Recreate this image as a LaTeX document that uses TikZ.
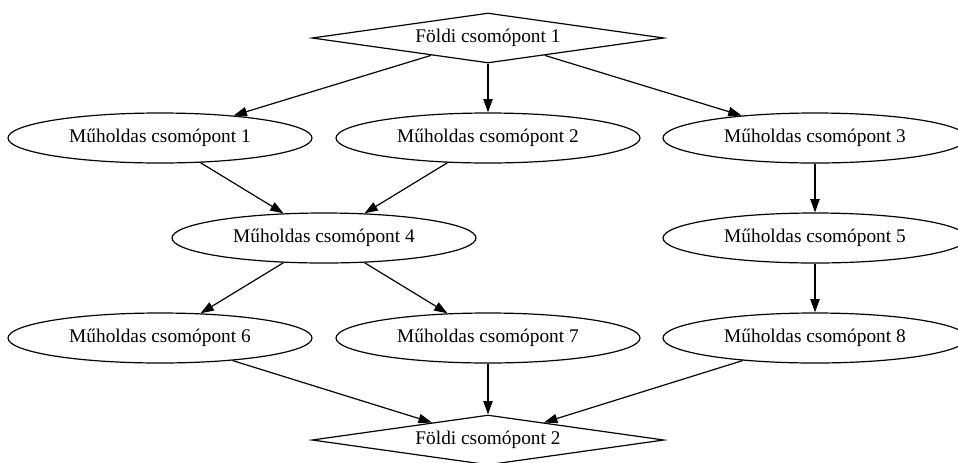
\documentclass[tikz,border=0pt]{standalone}
\usepackage{fontspec}
\setmainfont{Liberation Serif}
\usetikzlibrary{shapes.geometric,arrows.meta}
\begin{document}
\begin{tikzpicture}[x=0.75pt,y=-0.75pt,
  every node/.style={font=\fontsize{14.5pt}{17pt}\selectfont, inner sep=0pt},
  sat/.style={draw, line width=0.9pt, ellipse, minimum width=228pt, minimum height=37.5pt},
  ground/.style={draw, line width=0.9pt, diamond, aspect=7, minimum width=264pt, minimum height=37.5pt},
  link/.style={line width=0.9pt, -{Triangle[length=10pt,width=7pt]}}]
\path[use as bounding box, clip] (0,0) rectangle (958,462);

\node[ground] (g1) at (488,38) {Földi csomópont 1};
\node[sat] (m1) at (160,138) {Műholdas csomópont 1};
\node[sat] (m2) at (488,138) {Műholdas csomópont 2};
\node[sat] (m3) at (815,138) {Műholdas csomópont 3};
\node[sat] (m4) at (324,238) {Műholdas csomópont 4};
\node[sat] (m5) at (815,238) {Műholdas csomópont 5};
\node[sat] (m6) at (160,338) {Műholdas csomópont 6};
\node[sat] (m7) at (488,338) {Műholdas csomópont 7};
\node[sat] (m8) at (815,338) {Műholdas csomópont 8};
\node[ground] (g2) at (488,440) {Földi csomópont 2};

\draw[link] (g1) -- (m1);
\draw[link] (g1) -- (m2);
\draw[link] (g1) -- (m3);
\draw[link] (m1) -- (m4);
\draw[link] (m2) -- (m4);
\draw[link] (m3) -- (m5);
\draw[link] (m4) -- (m6);
\draw[link] (m4) -- (m7);
\draw[link] (m5) -- (m8);
\draw[link] (m6) -- (g2);
\draw[link] (m7) -- (g2);
\draw[link] (m8) -- (g2);
\end{tikzpicture}
\end{document}
